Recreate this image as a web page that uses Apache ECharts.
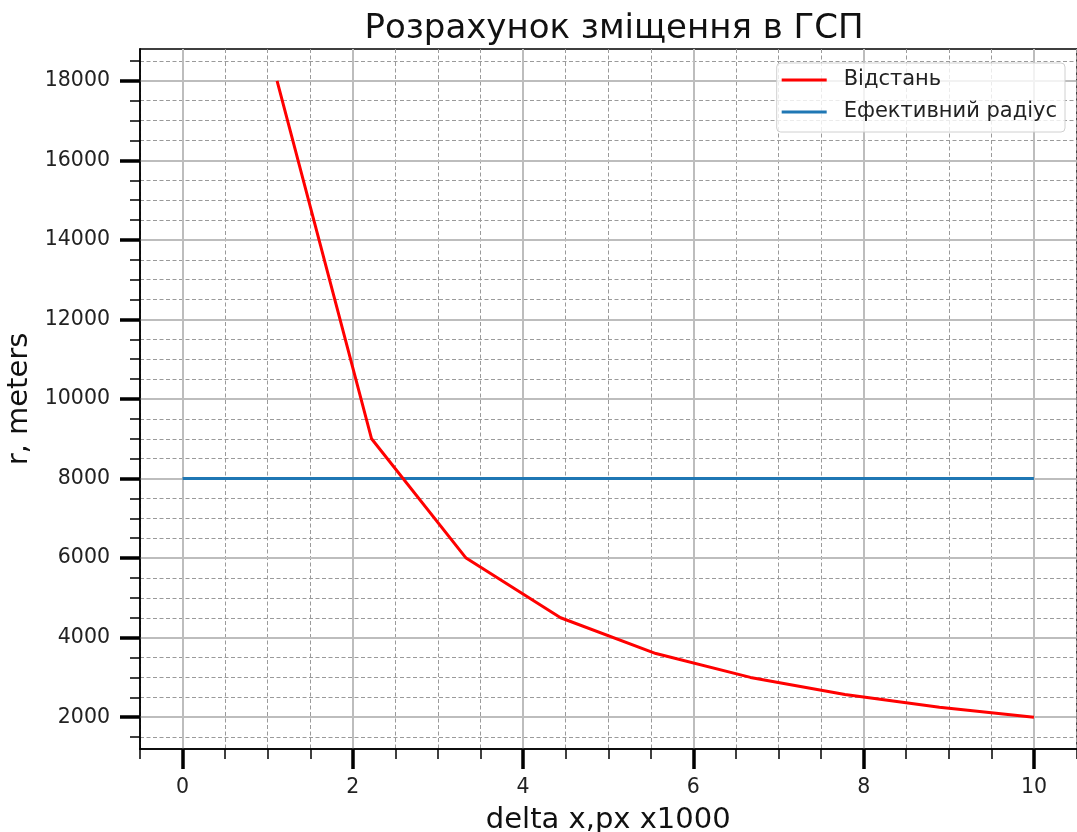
<!DOCTYPE html>
<html>
<head>
<meta charset="utf-8">
<script src="https://cdn.jsdelivr.net/npm/echarts@6/dist/echarts.min.js"></script>
<style>
  html, body { margin: 0; padding: 0; background: #fff; }
  #chart { width: 1077px; height: 832px; }
</style>
</head>
<body>
<div id="chart"></div>
<script>
// Displacement estimate: distance vs. pixel shift
const titleText = 'Розрахунок зміщення в ГСП';
const xName = 'delta x,px x1000';
const yName = 'r, meters';

const deltaX = [1.11, 2.22, 3.33, 4.44, 5.56, 6.67, 7.78, 8.89, 10];
const distance = [18000, 9000, 6000, 4500, 3600, 3000, 2570, 2250, 2000];

const radiusX = [0, 10];
const radiusY = [8000, 8000];

const seriesNames = ['Відстань', 'Ефективний радіус'];

const xMajorTicks = [0, 2, 4, 6, 8, 10];
const xMinorTicks = [-0.5, 0.5, 1, 1.5, 2.5, 3, 3.5, 4.5, 5, 5.5, 6.5, 7, 7.5, 8.5, 9, 9.5, 10.5];
const yMajorTicks = [2000, 4000, 6000, 8000, 10000, 12000, 14000, 16000, 18000];
const yMinorTicks = [1500, 2500, 3000, 3500, 4500, 5000, 5500, 6500, 7000, 7500,
  8500, 9000, 9500, 10500, 11000, 11500, 12500, 13000, 13500, 14500, 15000, 15500,
  16500, 17000, 17500, 18500];

const xRange = [-0.5, 10.5];
const yRange = [1200, 18800];

const FONT = 'DejaVu Sans';

const majorSplit = { show: true, lineStyle: { color: '#bdbdbd', width: 2, type: 'solid' } };
const minorSplit = { show: true, lineStyle: { color: '#9a9a9a', width: 1, type: [4, 2.5] } };
const spine = { show: true, onZero: false, lineStyle: { color: '#000', width: 1.5 } };

function majorAxis(pos, ticks, name, nameGap, labelMargin) {
  return {
    type: 'value', position: pos,
    min: pos === 'bottom' ? xRange[0] : yRange[0],
    max: pos === 'bottom' ? xRange[1] : yRange[1],
    name: name, nameLocation: 'middle', nameGap: nameGap,
    nameTextStyle: { fontFamily: FONT, fontSize: 29, color: '#111' },
    axisLine: spine,
    axisTick: { show: true, inside: false, length: 20, customValues: ticks,
      lineStyle: { color: '#000', width: 3.5 } },
    axisLabel: { show: true, customValues: ticks, margin: labelMargin,
      formatter: v => String(v),
      fontFamily: FONT, fontSize: 20.5, color: '#222' },
    splitLine: majorSplit,
    z: 3
  };
}

function minorAxis(pos, ticks) {
  return {
    type: 'value', position: pos,
    min: pos === 'bottom' ? xRange[0] : yRange[0],
    max: pos === 'bottom' ? xRange[1] : yRange[1],
    axisLine: spine,
    axisTick: { show: true, inside: false, length: 10, customValues: ticks,
      lineStyle: { color: '#000', width: 1.5 } },
    axisLabel: { show: false, customValues: ticks },
    splitLine: minorSplit,
    z: 1
  };
}

function frameAxis(pos, range) {
  return {
    type: 'value', position: pos, min: range[0], max: range[1],
    axisLine: spine, axisTick: { show: false }, axisLabel: { show: false },
    splitLine: { show: false }
  };
}

const chart = echarts.init(document.getElementById('chart'), null, { renderer: 'canvas' });

chart.setOption({
  animation: false,
  backgroundColor: '#fff',
  title: {
    text: titleText, left: 609, top: 7, textAlign: 'center',
    textStyle: { fontFamily: FONT, fontSize: 34, fontWeight: 'normal', color: '#111' }
  },
  legend: {
    right: 12, top: 63, orient: 'vertical', align: 'left',
    backgroundColor: 'rgba(255,255,255,0.8)', borderColor: '#d0d0d0', borderWidth: 1,
    borderRadius: 4, padding: [5, 8, 8, 5], itemGap: 8,
    itemWidth: 45, itemHeight: 3, icon: 'rect',
    textStyle: { fontFamily: FONT, fontSize: 21, color: '#222', lineHeight: 24,
      padding: [0, 0, 0, 12] },
    data: seriesNames
  },
  grid: { left: 140, right: 0.5, top: 49, bottom: 83, containLabel: false, outerBoundsMode: 'none' },
  xAxis: [
    majorAxis('bottom', xMajorTicks, xName, 57, 28),
    minorAxis('bottom', xMinorTicks),
    frameAxis('top', xRange)
  ],
  yAxis: [
    majorAxis('left', yMajorTicks, yName, 104, 30),
    minorAxis('left', yMinorTicks),
    frameAxis('right', yRange)
  ],
  series: [
    {
      name: seriesNames[0], type: 'line', xAxisIndex: 0, yAxisIndex: 0,
      data: deltaX.map((x, i) => [x, distance[i]]),
      showSymbol: false, symbol: 'none',
      lineStyle: { color: '#ff0000', width: 3 }, itemStyle: { color: '#ff0000' },
      z: 5
    },
    {
      name: seriesNames[1], type: 'line', xAxisIndex: 0, yAxisIndex: 0,
      data: radiusX.map((x, i) => [x, radiusY[i]]),
      showSymbol: false, symbol: 'none',
      lineStyle: { color: '#1f77b4', width: 3 }, itemStyle: { color: '#1f77b4' },
      z: 4
    }
  ]
});
</script>
</body>
</html>
